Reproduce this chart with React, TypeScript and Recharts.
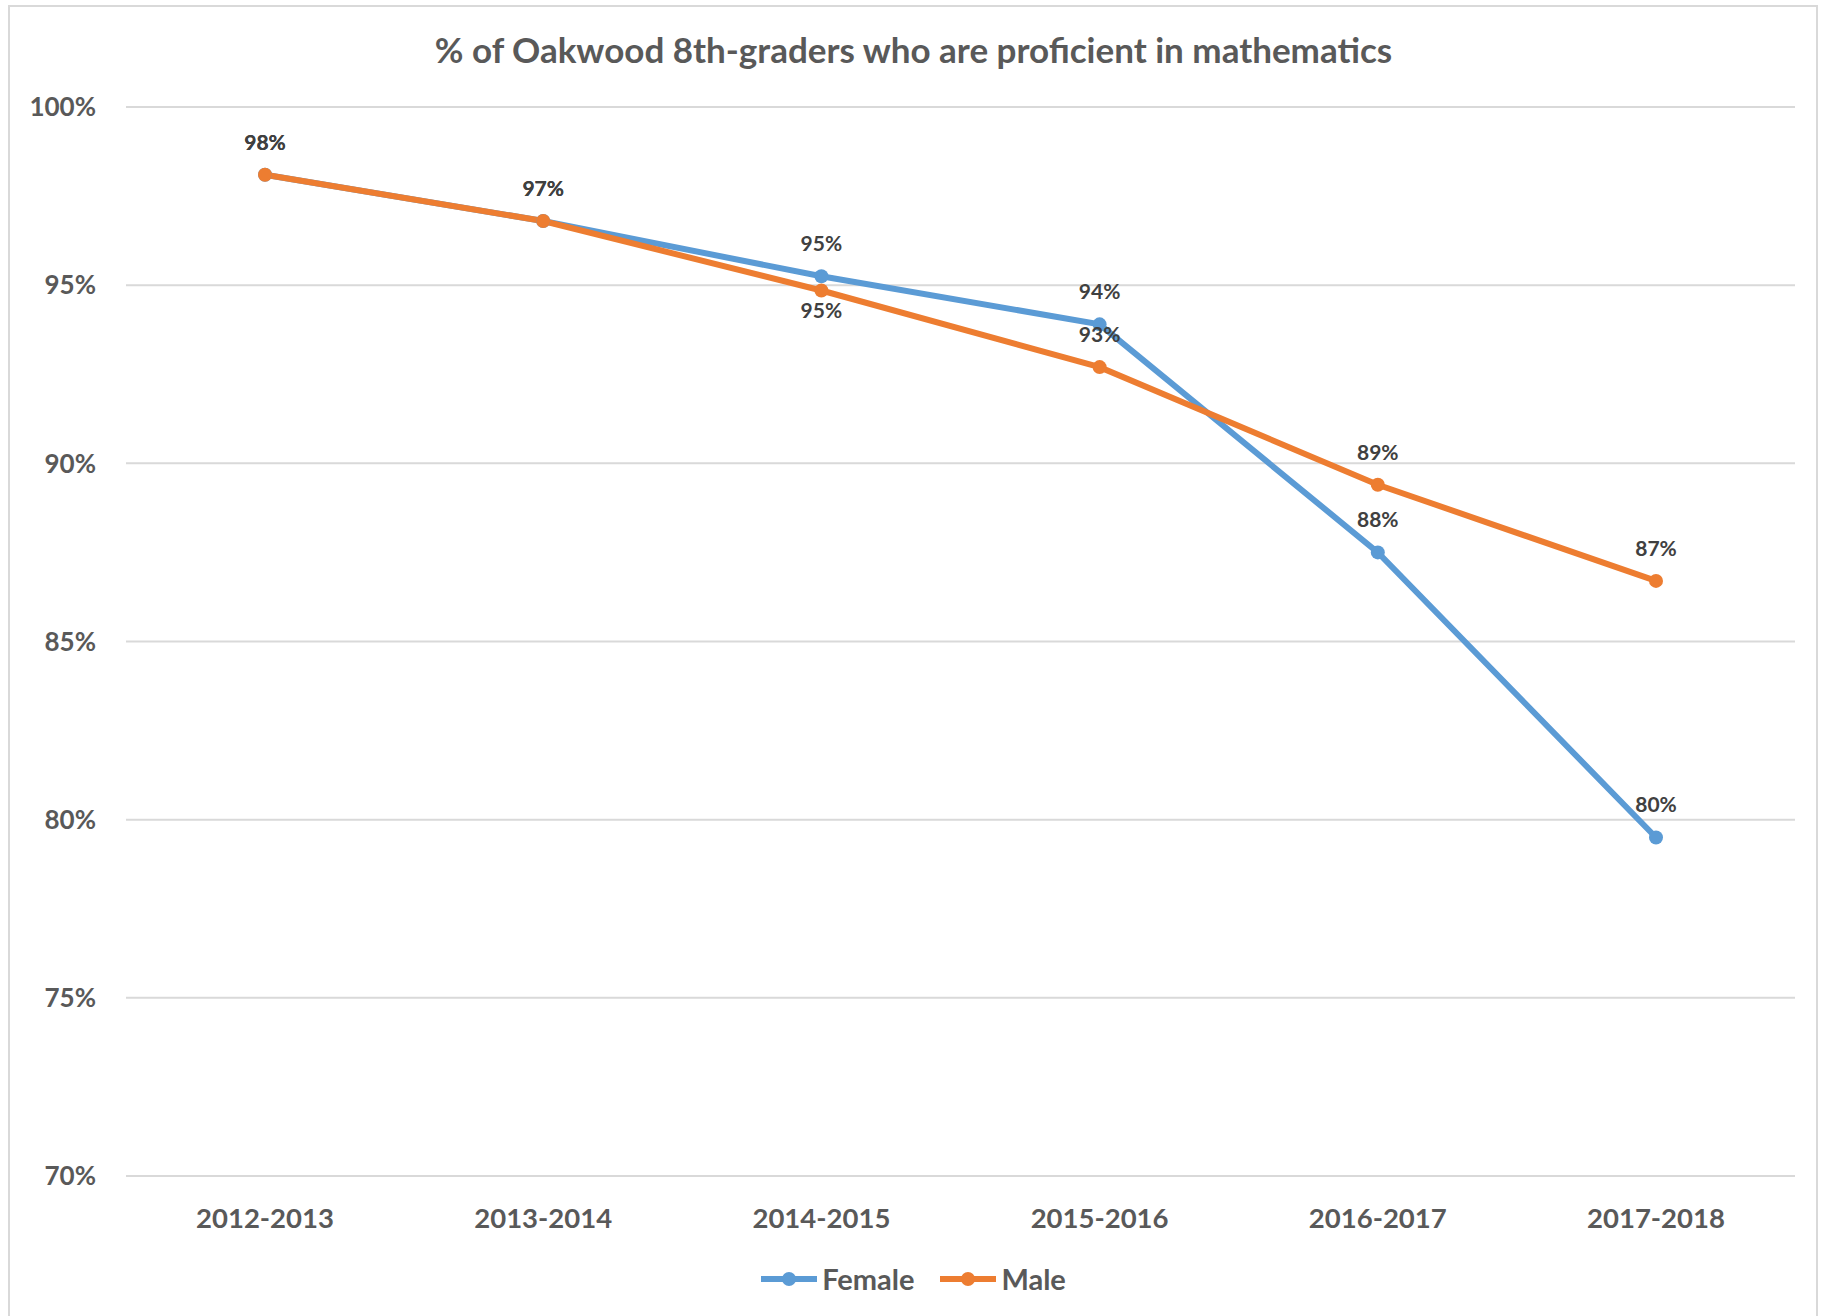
import React from 'react';
import { LineChart, Line, XAxis, YAxis, CartesianGrid, Legend, LabelList } from 'recharts';

const categories = ['2012-2013', '2013-2014', '2014-2015', '2015-2016', '2016-2017', '2017-2018'];
const femaleValues = [98.1, 96.8, 95.25, 93.9, 87.5, 79.5];
const maleValues = [98.1, 96.8, 94.85, 92.7, 89.4, 86.7];
const yTicks = [70, 75, 80, 85, 90, 95, 100];
const maleLabelBelow = [false, false, true, false, false, false];

const data = categories.map((c, i) => ({ year: c, Female: femaleValues[i], Male: maleValues[i] }));

const FONT = 'Lato, "Noto Sans", sans-serif';
const BLUE = '#5B9BD5';
const ORANGE = '#ED7D31';

const makeLabel = (below: boolean[] | null) => (props: any) => {
  const { x, y, value, index } = props;
  const isBelow = below ? below[index] : false;
  return (
    <text
      x={x}
      y={isBelow ? y + 27 : y - 25}
      textAnchor="middle"
      fontFamily={FONT}
      fontWeight={700}
      fontSize={21}
      fill="#404040"
    >
      {Math.round(value) + '%'}
    </text>
  );
};

const LegendContent = () => {
  const items = [
    { name: 'Female', color: BLUE },
    { name: 'Male', color: ORANGE },
  ];
  return (
    <div style={{ display: 'flex', justifyContent: 'center', alignItems: 'center', fontFamily: FONT }}>
      {items.map((it, i) => (
        <div key={it.name} style={{ display: 'flex', alignItems: 'center', marginLeft: i === 0 ? 0 : 26 }}>
          <svg width={56} height={16} style={{ display: 'block' }}>
            <line x1={0} y1={8} x2={56} y2={8} stroke={it.color} strokeWidth={6} />
            <circle cx={28} cy={8} r={7} fill={it.color} />
          </svg>
          <span style={{ marginLeft: 5, fontSize: 29, fontWeight: 700, color: '#595959', lineHeight: '32px' }}>{it.name}</span>
        </div>
      ))}
    </div>
  );
};

export default function App() {
  return (
    <div style={{ position: 'absolute', left: 0, top: 0, width: 1827, height: 1316, overflow: 'hidden', background: '#fff' }}>
      <div
        style={{
          position: 'absolute',
          left: 8,
          top: 5,
          width: 1810,
          height: 1400,
          border: '2px solid #D9D9D9',
          boxSizing: 'border-box',
        }}
      />
      <div
        style={{
          position: 'absolute',
          left: 0,
          top: 27,
          width: 1827,
          textAlign: 'center',
          fontFamily: FONT,
          fontWeight: 700,
          fontSize: 35,
          lineHeight: '44px',
          color: '#595959',
        }}
      >
        % of Oakwood 8th-graders who are proficient in mathematics
      </div>
      <div style={{ position: 'absolute', left: 0, top: 0 }}>
        <LineChart width={1827} height={1316} data={data} margin={{ top: 107, right: 32, bottom: 110, left: 0 }}>
          <CartesianGrid vertical={false} stroke="#D9D9D9" strokeWidth={2} />
          <XAxis
            dataKey="year"
            height={30}
            padding={{ left: 139, right: 139 }}
            axisLine={{ stroke: '#D9D9D9', strokeWidth: 2 }}
            tickLine={false}
            tickSize={0}
            tickMargin={32}
            tick={{ fontFamily: FONT, fontWeight: 700, fontSize: 27.5, fill: '#595959' }}
            interval={0}
          />
          <YAxis
            width={126}
            domain={[70, 100]}
            ticks={yTicks}
            axisLine={false}
            tickLine={false}
            tickSize={0}
            tickMargin={30}
            tickFormatter={(v: number) => v + '%'}
            tick={{ fontFamily: FONT, fontWeight: 700, fontSize: 26, fill: '#595959' }}
          />
          <Legend
            layout="horizontal"
            verticalAlign="middle"
            align="center"
            content={<LegendContent />}
            wrapperStyle={{ top: 1263, left: 0, width: 1827 }}
          />
          <Line
            type="linear"
            dataKey="Female"
            stroke={BLUE}
            strokeWidth={6}
            dot={{ r: 7, fill: BLUE, stroke: BLUE, strokeWidth: 0 }}
            activeDot={false}
            isAnimationActive={false}
          >
            <LabelList dataKey="Female" content={makeLabel(null)} />
          </Line>
          <Line
            type="linear"
            dataKey="Male"
            stroke={ORANGE}
            strokeWidth={6}
            dot={{ r: 7, fill: ORANGE, stroke: ORANGE, strokeWidth: 0 }}
            activeDot={false}
            isAnimationActive={false}
          >
            <LabelList dataKey="Male" content={makeLabel(maleLabelBelow)} />
          </Line>
        </LineChart>
      </div>
    </div>
  );
}
